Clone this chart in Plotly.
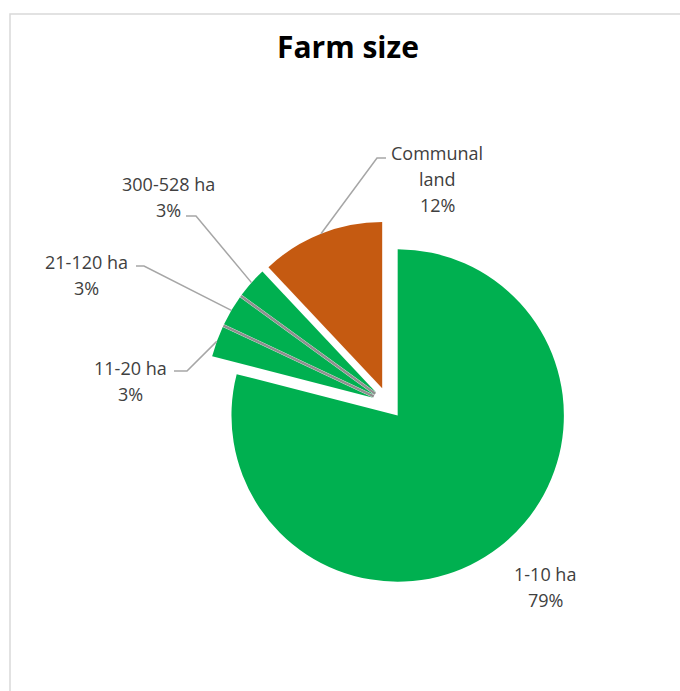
import math
import plotly.graph_objects as go

# ---- data ----
labels = ["1-10 ha", "11-20 ha", "21-120 ha", "300-528 ha", "Communal land"]
values = [79, 3, 3, 3, 12]
label_lines = [["1-10 ha", "79%"], ["11-20 ha", "3%"], ["21-120 ha", "3%"],
               ["300-528 ha", "3%"], ["Communal", "land", "12%"]]
colors = ["#00B050", "#00B050", "#00B050", "#00B050", "#C55A11"]
pulls = [0.095, 0.095, 0.095, 0.095, 0.095]

# ---- layout geometry (pixels) ----
W, H = 680, 691
cx, cy = 388, 403
outer = 182
dom_x = [(cx - outer) / W, (cx + outer) / W]
dom_y = [1 - (cy + outer) / H, 1 - (cy - outer) / H]
r = outer / (1 + max(pulls))
LINE_H = 26


def to_paper(x, y):
    return x / W, 1 - y / H


# label text centres and leader start / elbow points (pixels)
text_pos = [(545, 587), (130, 381), (86, 275), (168, 197), (437, 179)]
leader = [None, ((174, 371), (187, 371)), ((136, 266), (144, 266)),
          ((186, 216), (196, 216)), ((386, 158), (377, 158))]
# slices whose shared boundary shows a grey gap
grey_gaps = [(1, 2), (2, 3)]

fig = go.Figure(go.Pie(
    labels=labels, values=values, sort=False, direction="clockwise", rotation=0,
    pull=pulls, textinfo="none", hoverinfo="label+percent",
    marker=dict(colors=colors, line=dict(color="#ffffff", width=0)),
    domain=dict(x=dom_x, y=dom_y), showlegend=False,
))

shapes = [dict(type="rect", xref="paper", yref="paper",
               x0=10 / W, x1=1.05, y0=-0.05, y1=1 - 14 / H,
               line=dict(color="#d9d9d9", width=1.5), fillcolor="rgba(0,0,0,0)", layer="below")]
annotations = [dict(text="<b>Farm size</b>", x=348 / W, y=1 - 46 / H, xref="paper", yref="paper",
                    xanchor="center", yanchor="middle", showarrow=False,
                    font=dict(family="Open Sans", size=30, color="#000000"))]

total = sum(values)
cum = 0
vertices = []
bounds = []
for i, v in enumerate(values):
    theta = 2 * math.pi * (cum + v / 2) / total
    cum += v
    bounds.append(2 * math.pi * cum / total)
    dx, dy = math.sin(theta), -math.cos(theta)
    vx, vy = cx + pulls[i] * r * dx, cy + pulls[i] * r * dy
    vertices.append((vx, vy))
    ex, ey = vx + r * dx, vy + r * dy
    tx, ty = text_pos[i]
    n = len(label_lines[i])
    for k, line in enumerate(label_lines[i]):
        lx, ly = to_paper(tx, ty + (k - (n - 1) / 2) * LINE_H)
        annotations.append(dict(text=line, x=lx, y=ly, xref="paper", yref="paper",
                                xanchor="center", yanchor="middle", showarrow=False,
                                font=dict(family="Open Sans", size=18, color="#404040")))
    if leader[i] is not None:
        (sx, sy), (bx, by) = leader[i]
        pts = [to_paper(sx, sy), to_paper(bx, by), to_paper(ex, ey)]
        path = "M {} {} L {} {} L {} {}".format(*[c for p in pts for c in p])
        shapes.append(dict(type="path", xref="paper", yref="paper", path=path,
                           line=dict(color="#a6a6a6", width=1.5)))

# grey gaps between adjacent small slices
for a, b in grey_gaps:
    tb = bounds[a]
    mx = (vertices[a][0] + vertices[b][0]) / 2
    my = (vertices[a][1] + vertices[b][1]) / 2
    dx, dy = math.sin(tb), -math.cos(tb)
    p0 = to_paper(mx, my)
    p1 = to_paper(mx + r * dx, my + r * dy)
    shapes.append(dict(type="line", xref="paper", yref="paper",
                       x0=p0[0], y0=p0[1], x1=p1[0], y1=p1[1],
                       line=dict(color="#8f8f8f", width=2.5)))

fig.update_layout(width=W, height=H, margin=dict(l=0, r=0, t=0, b=0),
                  paper_bgcolor="white", plot_bgcolor="white",
                  shapes=shapes, annotations=annotations)

fig.write_html("out.html")
